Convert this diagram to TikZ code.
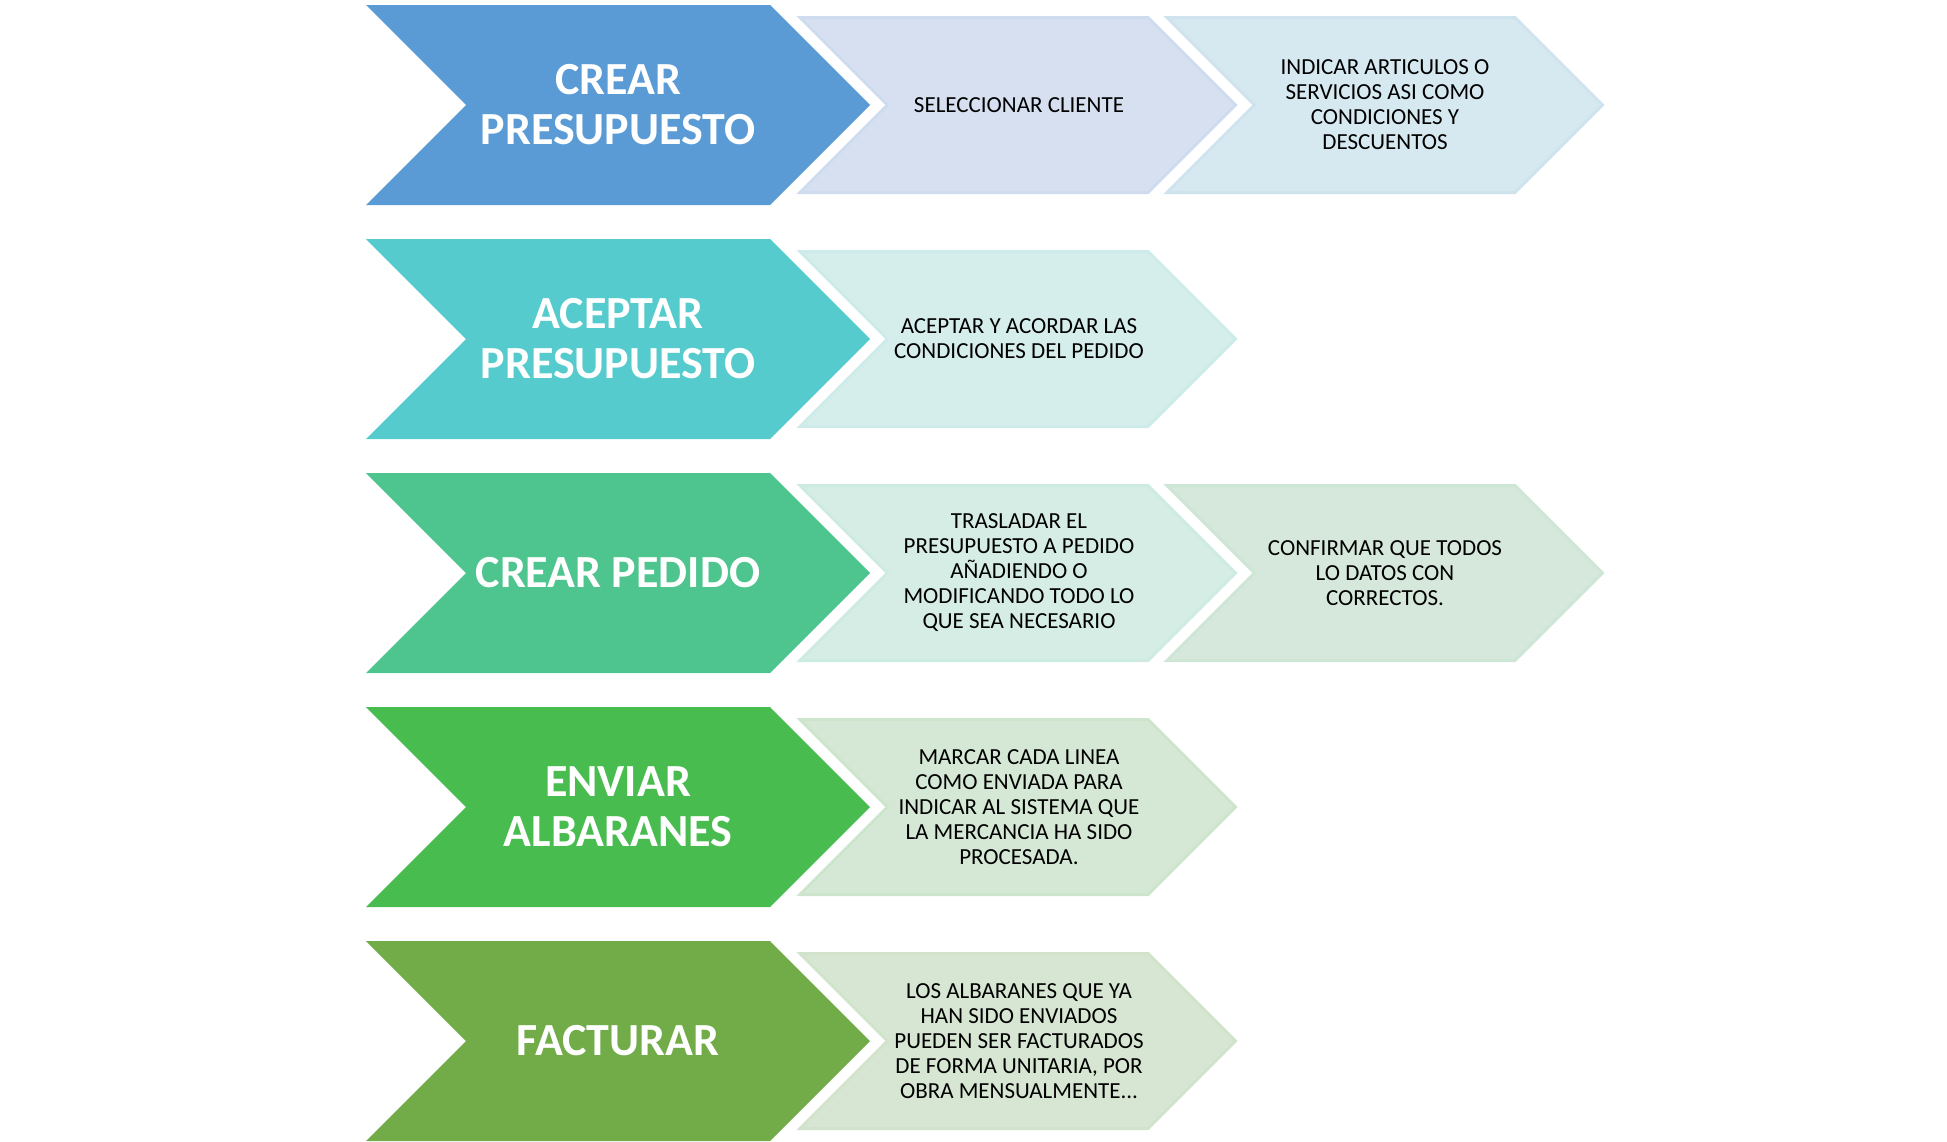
\documentclass[tikz,border=0pt]{standalone}
\usepackage{fontspec}
\setmainfont{Carlito}

\definecolor{bigA}{HTML}{5B9BD5}
\definecolor{bigB}{HTML}{55CBCD}
\definecolor{bigC}{HTML}{4EC48E}
\definecolor{bigD}{HTML}{49BC50}
\definecolor{bigE}{HTML}{71AC48}
\definecolor{lightA}{HTML}{D6E0F1}
\definecolor{lightAA}{HTML}{D6E8F0}
\definecolor{lightB}{HTML}{D5EEEB}
\definecolor{lightC}{HTML}{D5EDE5}
\definecolor{lightCC}{HTML}{D5E8DB}
\definecolor{lightD}{HTML}{D5E8D5}
\definecolor{lightE}{HTML}{D7E6D3}

\begin{document}
\begin{tikzpicture}[x=1pt,y=-1pt]
	\tikzset{bigtext/.style={text=white, font=\fontsize{46}{50}\selectfont\bfseries, align=center, inner sep=0pt},
		smalltext/.style={text=black, font=\fontsize{23}{25}\selectfont, align=center, inner sep=0pt},
		lightchev/.style={line width=3pt, line join=miter}}
	\useasboundingbox (0,0) rectangle (1947,1141);
	% dark chevrons, one per row
	\path[fill=bigA] (366,5) -- ++(404,0) -- ++(100,100) -- ++(-100,100) -- ++(-404,0) -- ++(100,-100) -- cycle;
	\path[fill=bigB] (366,239) -- ++(404,0) -- ++(100,100) -- ++(-100,100) -- ++(-404,0) -- ++(100,-100) -- cycle;
	\path[fill=bigC] (366,473) -- ++(404,0) -- ++(100,100) -- ++(-100,100) -- ++(-404,0) -- ++(100,-100) -- cycle;
	\path[fill=bigD] (366,707) -- ++(404,0) -- ++(100,100) -- ++(-100,100) -- ++(-404,0) -- ++(100,-100) -- cycle;
	\path[fill=bigE] (366,941) -- ++(404,0) -- ++(100,100) -- ++(-100,100) -- ++(-404,0) -- ++(100,-100) -- cycle;
	% light chevrons
	\path[lightchev, fill=lightA, draw=lightA!94!bigA] (800,17.5) -- ++(348,0) -- ++(87.5,87.5) -- ++(-87.5,87.5) -- ++(-348,0) -- ++(87.5,-87.5) -- cycle;
	\path[lightchev, fill=lightAA, draw=lightAA!94!bigA] (1167,17.5) -- ++(348,0) -- ++(87.5,87.5) -- ++(-87.5,87.5) -- ++(-348,0) -- ++(87.5,-87.5) -- cycle;
	\path[lightchev, fill=lightB, draw=lightB!94!bigB] (800,251.5) -- ++(348,0) -- ++(87.5,87.5) -- ++(-87.5,87.5) -- ++(-348,0) -- ++(87.5,-87.5) -- cycle;
	\path[lightchev, fill=lightC, draw=lightC!94!bigC] (800,485.5) -- ++(348,0) -- ++(87.5,87.5) -- ++(-87.5,87.5) -- ++(-348,0) -- ++(87.5,-87.5) -- cycle;
	\path[lightchev, fill=lightCC, draw=lightCC!94!bigC] (1167,485.5) -- ++(348,0) -- ++(87.5,87.5) -- ++(-87.5,87.5) -- ++(-348,0) -- ++(87.5,-87.5) -- cycle;
	\path[lightchev, fill=lightD, draw=lightD!94!bigD] (800,719.5) -- ++(348,0) -- ++(87.5,87.5) -- ++(-87.5,87.5) -- ++(-348,0) -- ++(87.5,-87.5) -- cycle;
	\path[lightchev, fill=lightE, draw=lightE!94!bigE] (800,953.5) -- ++(348,0) -- ++(87.5,87.5) -- ++(-87.5,87.5) -- ++(-348,0) -- ++(87.5,-87.5) -- cycle;
	% texts
	\node[bigtext] (crearpres) at (618,105) {CREAR\\PRESUPUESTO};
	\node[bigtext] (aceptpres) at (618,339) {ACEPTAR\\PRESUPUESTO};
	\node[bigtext] (crearped) at (618,573) {CREAR PEDIDO};
	\node[bigtext] (enviar) at (618,807) {ENVIAR\\ALBARANES};
	\node[bigtext] (facturar) at (618,1041) {FACTURAR};
	\node[smalltext] (cliente) at (1019,105) {SELECCIONAR CLIENTE};
	\node[smalltext] (articulos) at (1385,105) {INDICAR ARTICULOS O\\SERVICIOS ASI COMO\\CONDICIONES Y\\DESCUENTOS};
	\node[smalltext] (acordar) at (1019,339) {ACEPTAR Y ACORDAR LAS\\CONDICIONES DEL PEDIDO};
	\node[smalltext] (trasladar) at (1019,573) {TRASLADAR EL\\PRESUPUESTO A PEDIDO\\AÑADIENDO O\\MODIFICANDO TODO LO\\QUE SEA NECESARIO};
	\node[smalltext] (confirmar) at (1385,573) {CONFIRMAR QUE TODOS\\LO DATOS CON\\CORRECTOS.};
	\node[smalltext] (marcar) at (1019,807) {MARCAR CADA LINEA\\COMO ENVIADA PARA\\INDICAR AL SISTEMA QUE\\LA MERCANCIA HA SIDO\\PROCESADA.};
	\node[smalltext] (albaranes) at (1019,1041) {LOS ALBARANES QUE YA\\HAN SIDO ENVIADOS\\PUEDEN SER FACTURADOS\\DE FORMA UNITARIA, POR\\OBRA MENSUALMENTE...};
\end{tikzpicture}
\end{document}
